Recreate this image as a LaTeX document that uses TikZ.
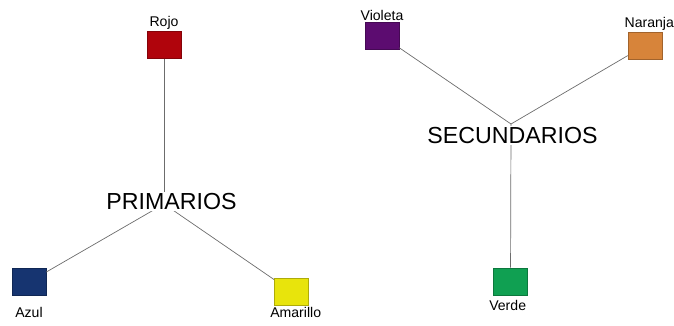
\documentclass[tikz,border=0pt]{standalone}
\usepackage{fontspec}
\setmainfont{Liberation Sans}
\usepackage{tikz}
\usetikzlibrary{positioning}
\definecolor{rojo}{RGB}{176,4,12}
\definecolor{azul}{RGB}{22,52,112}
\definecolor{amarillo}{RGB}{232,228,12}
\definecolor{violeta}{RGB}{92,12,112}
\definecolor{naranja}{RGB}{215,132,58}
\definecolor{verde}{RGB}{16,160,82}
\tikzset{
  caja/.style={draw=#1!75!black,fill=#1,minimum width=0.85cm,minimum height=0.68cm,inner sep=0pt},
  nombre/.style={inner sep=1pt,font=\fontsize{10}{12}\selectfont},
  grupo/.style={fill=white,inner sep=1pt,font=\fontsize{16.5}{19}\selectfont},
  rama/.style={draw=gray!85!black,line width=0.5pt}
}
\begin{document}
\begin{tikzpicture}[x=0.025cm,y=-0.025cm,node distance=0pt]
  \useasboundingbox (0,0) rectangle (674,325);

  \node[caja=rojo] (rojo) at (164,45) {};
  \node[caja=azul] (azul) at (29,282) {};
  \node[caja=amarillo] (amarillo) at (291.5,291.5) {};
  \node[caja=violeta] (violeta) at (382,36) {};
  \node[caja=naranja] (naranja) at (645,45.5) {};
  \node[caja=verde] (verde) at (510.5,281.5) {};

  \node[nombre] (rojoL) [above = of rojo] {Rojo};
  \node[nombre] (azulL) [below = 7pt of azul] {Azul};
  \node[nombre] (amarilloL) [below = of amarillo, xshift=3pt] {Amarillo};
  \node[nombre] (violetaL) [above = of violeta] {Violeta};
  \node[nombre] (naranjaL) [above = of naranja, xshift=3pt] {Naranja};
  \node[nombre] (verdeL) [below = 2pt of verde, xshift=-2pt] {Verde};

  \coordinate (c1) at (164,204);
  \coordinate (c2) at (511,124);

  \path[rama]
  (rojo) edge (c1)
  (azul) edge (c1)
  (amarillo) edge (c1)
  (violeta) edge (c2)
  (naranja) edge (c2)
  (verde) edge (c2)
  ;

  \node[grupo] (prim) at (171.5,201.5) {PRIMARIOS};
  \node[grupo] (sec) at (512.5,135.5) {SECUNDARIOS};
\end{tikzpicture}
\end{document}
